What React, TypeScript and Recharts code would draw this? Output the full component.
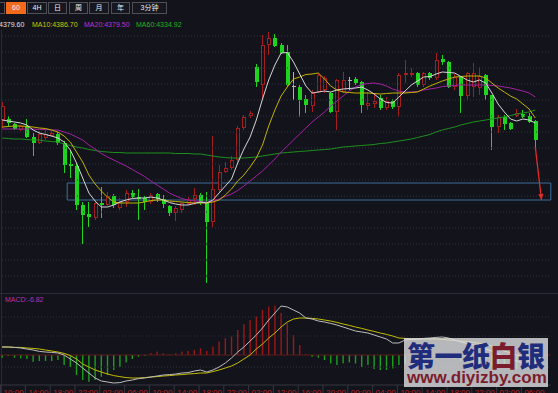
import React from 'react';
import { ComposedChart, Bar, Line, XAxis, YAxis, ReferenceLine, ReferenceArea } from 'recharts';

// ---------- data (60-minute candles) ----------
const opens = [4380,4381,4376,4370,4374,4363,4357,4362,4364,4366,
 4357,4336,4334,4295,4286,4282,4297,4295,4304,4292,
 4298,4307,4303,4302,4298,4306,4301,4294,4287,4290,
 4296,4301,4305,4297,4278,4310,4328,4332,4340,4372,
 4384,4433,4415,4455,4462,4455,4448,4414,4413,4401,
 4394,4408,4410,4407,4388,4408,4420,4421,4418,4394,
 4396,4402,4392,4399,4393,4425,4426,4427,4415,4427,
 4422,4441,4438,4413,4423,4404,4413,4412,4425,4405,
 4373,4383,4377,4384,4386,4384,4379];
const highs = [4398,4384,4377,4375,4381,4367,4369,4371,4369,4368,
 4359,4350,4337,4298,4298,4298,4313,4308,4306,4302,
 4310,4310,4311,4304,4307,4307,4305,4295,4294,4298,
 4303,4312,4307,4308,4364,4335,4338,4344,4374,4385,
 4389,4436,4465,4468,4466,4457,4455,4428,4415,4405,
 4410,4427,4424,4408,4421,4428,4423,4423,4419,4408,
 4407,4405,4403,4401,4427,4440,4432,4428,4428,4428,
 4447,4445,4439,4426,4424,4428,4437,4433,4426,4405,
 4385,4385,4378,4391,4390,4387,4380];
const lows = [4372,4373,4370,4369,4362,4344,4356,4360,4363,4355,
 4327,4322,4290,4256,4273,4280,4282,4294,4292,4290,
 4293,4302,4280,4290,4296,4298,4292,4284,4279,4287,
 4295,4295,4295,4217,4273,4308,4327,4330,4338,4370,
 4382,4413,4400,4445,4453,4446,4413,4400,4383,4387,
 4388,4407,4407,4387,4370,4407,4410,4415,4387,4390,
 4392,4390,4390,4391,4383,4417,4423,4413,4413,4420,
 4420,4435,4412,4410,4387,4400,4403,4405,4400,4350,
 4367,4370,4370,4383,4382,4377,4353];
const closes = [4394,4377,4371,4374,4363,4357,4366,4366,4367,4357,
 4335,4334,4295,4285,4283,4297,4295,4304,4295,4298,
 4307,4303,4301,4298,4305,4301,4296,4287,4292,4297,
 4300,4305,4297,4278,4311,4328,4332,4340,4372,4383,
 4387,4418,4455,4462,4454,4447,4415,4414,4400,4395,
 4407,4425,4422,4388,4420,4420,4420,4417,4395,4397,
 4399,4392,4399,4393,4425,4427,4427,4415,4427,4422,
 4440,4438,4413,4423,4404,4427,4427,4424,4405,4373,
 4383,4376,4371,4387,4383,4378,4360];

const ma5 = [4380,4379,4378,4377,4375,4370,4367,4365.5,4364,4362,
 4358,4350,4337,4322,4307,4299,4293,4293,4295,4298,
 4300,4301.5,4302,4302,4303,4302,4300,4297.5,4296,4295,
 4295,4296.5,4298,4297,4300,4307,4314,4321,4337,4351,
 4363,4380,4401,4420,4435,4447,4447.5,4438,4426,4414,
 4407,4408,4409,4408,4410,4411,4411.5,4412,4413,4410,
 4406,4401,4397.5,4397,4403,4409,4415,4419,4423,4423.5,
 4426,4428,4427.5,4427,4423.5,4420,4418,4420,4417,4407,
 4396,4388,4381,4379,4381,4380,4377];
const ma10 = [4373,4373.5,4374,4374,4373.5,4373,4372,4371.5,4370,4368,
 4364,4358,4348,4338,4325,4316,4309,4303,4298,4297,
 4297,4297,4297,4298,4299.5,4300,4300,4299,4298.5,4298,
 4297.5,4297,4297,4297,4298,4300,4305,4311,4319,4325,
 4333,4342,4355,4374,4390,4404,4413,4421,4423,4425.5,
 4426,4427,4421,4414,4410,4408,4407.5,4407,4407,4407,
 4406.5,4406,4406.5,4407,4407,4407,4407.5,4408,4411,4414,
 4416.5,4419,4421,4423,4423.5,4424,4424,4424,4422,4417,
 4412,4408,4404,4401,4396,4391,4382];
const ma20 = [4371,4371,4371,4371,4371,4371,4370.5,4370.5,4370,4370,
 4368,4366,4363,4360,4355,4351,4346.5,4343,4340,4337,
 4334,4330.5,4327,4323.5,4319,4315,4311,4307,4304,4301.5,
 4300,4299,4298.5,4298,4299,4301,4303.5,4306,4309.5,4314,
 4319,4324,4329,4335,4341,4348,4354,4360,4366,4372,
 4378,4383,4388,4394,4399,4404,4409,4413,4415.5,4416.5,
 4417,4416,4414,4411,4409,4408,4408,4408.5,4410,4411,
 4412,4413.5,4414,4414.5,4415,4415,4415,4415,4415,4414.5,
 4414,4413,4412,4410.5,4409,4407,4403];
const ma60 = [4362,4361.5,4361,4361,4360.5,4360,4360,4359,4358.5,4358,
 4356,4354.5,4353,4352,4350.5,4349.5,4348.5,4348,4347.5,4347.5,
 4347,4347,4347,4347,4347,4347,4347,4347,4346.5,4346.5,
 4346.5,4346,4346,4345,4344,4343,4342.5,4342,4342,4342,
 4342.5,4343,4344,4345,4346,4347,4347.5,4348,4348.5,4349,
 4349.5,4350,4350.5,4351,4352,4353,4353.5,4354,4354.5,4355,
 4355.5,4356.5,4357,4358,4359,4360,4361,4362.5,4364,4365.5,
 4368,4370,4371.5,4373,4375,4376.5,4378,4379,4380,4381,
 4382,4383,4384.5,4386,4387,4388,4390];

const dif = [4,4,3.8,3.5,3,2.5,1.8,1.5,1.3,1,
 0,-2,-4,-6.5,-9,-11.5,-13,-13.5,-14,-13.8,
 -13,-12.5,-11.8,-11.5,-11,-10.5,-10,-9.8,-9.5,-9,
 -8.8,-8,-7.5,-8.5,-7.5,-6,-4,-1.5,1.5,4,
 7,10,13.5,17.5,21,24.5,24,22.5,21,18.5,
 18,17,16.5,15.8,15,14,13,12,11.5,11,
 10,9,8,6,6,7.5,7.8,8,8.3,8.5,
 8.8,9,8.5,7.5,6.5,5.8,5,4,3,2,
 0.5,-1,-2,-3,-4,-4.8,-5.5];
const dea = [4,4,3.8,3.8,3.5,3.3,3,2.5,2,1.5,
 0.8,-0.3,-2,-4.5,-6,-7.5,-8.5,-9.5,-10.3,-10.8,
 -11.3,-11.5,-11.5,-11.3,-11,-10.8,-10.5,-10.3,-10,-9.8,
 -9.5,-9.3,-9,-9,-8.3,-7.5,-6.5,-5.5,-4,-2,
 0,3,5.5,8.5,11,14,16.5,18,18.5,18.5,
 18.3,18,17.5,17,16.3,15.5,14.8,14,13.3,12.5,
 11.8,11,10.3,9.5,8.5,8.3,8,8,8,8,
 8,7.8,7.5,7.3,7,6.8,6.3,5.8,5.3,4.5,
 3.3,2,1,0,-0.8,-1.3,-1.8];
const macdHist = [-1.4,-0.5,-1.4,-1.7,-2,-3.4,-3,-3,-3,-2.5,
 -5,-5.9,-10,-12.5,-13.4,-12.5,-10.9,-10,-7.5,-5.9,
 -3.7,-2,-0.9,-0.4,0.9,1.7,0.9,0.4,0.9,1.7,
 2,2.5,3.4,2,4.2,6.7,8.4,9.2,12.5,15.4,
 17.5,19.2,22.5,24.2,24.7,21,15.9,10,5,0.5,
 -0.9,-1.4,-2.5,-4.2,-5,-4.2,-3.7,-4.2,-5.9,-5,
 -7,-7.5,-7.5,-6.7,-5,-4.2,-3,-2,-1.5,-1,
 -0.8,-0.5,-1,-2,-3,-3.5,-4,-4.5,-5,-5.5,
 -6,-6.5,-6.5,-7,-7,-7,-7.5];

const timeTicks = [0,4,8,12,16,20,24,28,32,36,40,44,48,52,56,60,64,68,72,76,80,84];
const timeLabels = ['10:00','14:00','18:00','22:00','02:00','06:00','10:00','14:00','18:00','22:00','02:00',
 '12:00','16:00','20:00','00:00','04:00','10:00','14:00','18:00','22:00','02:00','06:00'];

const periodLabels = ['60','4H','日','周','月','年','3分钟'];
const legendTexts = ['4379.60','MA10:4386.70','MA20:4379.50','MA60:4334.92'];
const macdLabel = 'MACD:-6.82';

const gridPrices = [4464,4448,4432,4416,4400,4384,4368,4352,4336,4320,4304,4288,4272,4256,4240,4224];
const macdGrid = [19, 9.5, -6];
const boxStart = 11;
const boxEnd = 88;
const boxLow = 4300;
const boxHigh = 4317;
const arrowFrom = 86;
const arrowValues = [4353, 4300];
const SLOTS = 89;

const data = Array.from({ length: SLOTS }, (_, i) => {
  const row: any = { i };
  if (i < opens.length) {
    row.open = opens[i]; row.high = highs[i]; row.low = lows[i]; row.close = closes[i];
    row.range = [lows[i], highs[i]];
    row.ma5 = ma5[i]; row.ma10 = ma10[i]; row.ma20 = ma20[i]; row.ma60 = ma60[i];
    row.dif = dif[i]; row.dea = dea[i]; row.hist = macdHist[i];
  }
  if (i === arrowFrom) row.arrow = arrowValues[0];
  if (i === arrowFrom + 1) row.arrow = arrowValues[1];
  return row;
});

// ---------- styles ----------
const BG = '#13141b';
const RED = '#a31e1e';
const GREEN = '#1fd41f';
const GRAY = '#b4b4b4';
const GRID = '#30323c';
const FONT = '"Liberation Sans", Arial, "Noto Sans CJK SC", sans-serif';

const CandleShape = (props: any) => {
  const { x, y, width, height, payload } = props;
  if (!payload || payload.high == null) return <g />;
  const { open, close, high, low } = payload;
  const top0 = Math.min(y, y + height);
  const h0 = Math.abs(height);
  const span = high - low;
  const py = (v: number) => (span === 0 ? top0 : top0 + ((high - v) / span) * h0);
  const n = Math.floor(x + width / 2);
  const cx = n + 0.5;
  const flat = close === open;
  const up = close > open;
  const color = flat ? GRAY : up ? RED : GREEN;
  const bTop = Math.round(py(Math.max(open, close)));
  const bBot = Math.round(py(Math.min(open, close)));
  return (
    <g>
      <line x1={cx} x2={cx} y1={py(high)} y2={py(low)} stroke={color} strokeWidth={1} />
      {flat ? (
        <line x1={n - 1} x2={n + 3} y1={bTop + 0.5} y2={bTop + 0.5} stroke={color} strokeWidth={1} />
      ) : up ? (
        <rect x={n - 0.5} y={bTop + 0.5} width={3} height={Math.max(bBot - bTop - 1, 1)} fill={BG} stroke={color} strokeWidth={1} />
      ) : (
        <rect x={n - 1} y={bTop} width={4} height={Math.max(bBot - bTop, 1)} fill={color} />
      )}
    </g>
  );
};

const HistShape = (props: any) => {
  const { x, y, width, height, payload } = props;
  if (!payload || payload.hist == null) return <g />;
  const top = Math.min(y, y + height);
  const h = Math.abs(height);
  const cx = x + width / 2;
  return <rect x={cx - 0.7} y={top} width={1.4} height={h} fill={payload.hist >= 0 ? '#9c1717' : '#1d9e1d'} />;
};

const ArrowHead = (props: any) => {
  const { cx, cy, index } = props;
  if (index !== arrowFrom + 1 || cx == null) return <g key={`ah${index}`} />;
  const dx = 0.116, dy = 0.993;
  const bx = cx - 6 * dx, by = cy - 6 * dy;
  const pts = `${cx},${cy} ${bx - 2.6 * dy},${by + 2.6 * dx} ${bx + 2.6 * dy},${by - 2.6 * dx}`;
  return <polygon key={`ah${index}`} points={pts} fill="#e52b2b" />;
};

const TimeTick = (props: any) => {
  const { x, y, payload } = props;
  const k = timeTicks.indexOf(payload.value);
  const label = k >= 0 ? timeLabels[k] : '';
  return (
    <g>
      <line x1={x - 1.5} x2={x - 1.5} y1={y} y2={y + 8} stroke="#34353e" strokeWidth={1} />
      <text x={x + 1.5} y={y + 10} fill="#b82323" fontSize={8} fontFamily={FONT} textAnchor="start">{label}</text>
    </g>
  );
};

const buttonLefts = [6, 27, 48, 69, 89, 111, 132];
const buttonWidths = [20, 20, 19, 19, 20, 19, 35];
const legendLefts = [-1, 32, 84, 136];
const legendColors = ['#e0e0e0', '#d2c400', '#c22ec2', '#22b422'];

export default function App() {
  return (
    <div style={{ position: 'fixed', left: 0, top: 0, width: 558, height: 393, overflow: 'hidden', background: BG, fontFamily: FONT }}>
      {/* period toolbar */}
      <div style={{ position: 'absolute', left: -16, top: 2, width: 21, height: 12, boxSizing: 'border-box', border: '1px solid #4e4f57' }} />
      {periodLabels.map((p, k) => (
        <div key={p} style={{
          position: 'absolute', left: buttonLefts[k], top: 2, width: buttonWidths[k], height: 12, boxSizing: 'border-box',
          border: k === 0 ? '1px solid #f26b1d' : '1px solid #4e4f57', background: k === 0 ? '#f26b1d' : '#17181f',
          color: '#ececec', fontSize: 7, display: 'flex', alignItems: 'center', justifyContent: 'center', lineHeight: '10px'
        }}>{p}</div>
      ))}
      {/* MA legend */}
      {legendTexts.map((t, k) => (
        <div key={t} style={{ position: 'absolute', left: legendLefts[k], top: 20, fontSize: 7, lineHeight: '10px', color: legendColors[k], whiteSpace: 'nowrap' }}>{t}</div>
      ))}

      {/* left border */}
      <div style={{ position: 'absolute', left: 1, top: 30, width: 1, height: 363, background: '#292a33' }} />

      {/* main price panel */}
      <div style={{ position: 'absolute', left: -11.1, top: 30 }}>
        <ComposedChart width={570} height={260} data={data} margin={{ top: 0, right: 8.2, bottom: 0, left: 10 }}>
          <XAxis dataKey="i" type="category" hide />
          <YAxis domain={[4210, 4470]} hide allowDataOverflow />
          {gridPrices.map((p) => (
            <ReferenceLine key={p} y={p} stroke={GRID} strokeDasharray="1 2" />
          ))}
          <ReferenceArea x1={boxStart} x2={boxEnd} y1={boxLow} y2={boxHigh} fill="none" fillOpacity={0} stroke="#3d6d9b" strokeWidth={1} ifOverflow="visible" />
          <Bar dataKey="range" shape={CandleShape} isAnimationActive={false} />
          <Line dataKey="ma60" type="linear" stroke="#1f8f1f" strokeWidth={1} dot={false} activeDot={false} isAnimationActive={false} />
          <Line dataKey="ma20" type="linear" stroke="#a322a3" strokeWidth={1} dot={false} activeDot={false} isAnimationActive={false} />
          <Line dataKey="ma10" type="linear" stroke="#c2b200" strokeWidth={1} dot={false} activeDot={false} isAnimationActive={false} />
          <Line dataKey="ma5" type="linear" stroke="#d6d6d6" strokeWidth={1} dot={false} activeDot={false} isAnimationActive={false} />
          <Line dataKey="arrow" type="linear" stroke="#e52b2b" strokeWidth={1.3} dot={ArrowHead} activeDot={false} isAnimationActive={false} />
        </ComposedChart>
      </div>

      {/* MACD panel */}
      <div style={{ position: 'absolute', left: 0, top: 293, width: 558, height: 1, background: '#2a2b34' }} />
      <div style={{ position: 'absolute', left: 5, top: 295, fontSize: 7, lineHeight: '10px', color: '#b232b2', whiteSpace: 'nowrap' }}>{macdLabel}</div>
      <div style={{ position: 'absolute', left: -11.1, top: 295 }}>
        <ComposedChart width={570} height={108} data={data} margin={{ top: 0, right: 8.2, bottom: 0, left: 10 }}>
          <XAxis dataKey="i" type="category" ticks={timeTicks} interval={0} height={18} tickSize={0} tickMargin={0}
            axisLine={{ stroke: '#34353e' }} tickLine={false} tick={<TimeTick />} />
          <YAxis domain={[-15, 30]} hide allowDataOverflow />
          {macdGrid.map((v) => (
            <ReferenceLine key={v} y={v} stroke={GRID} strokeDasharray="1 2" />
          ))}
          <ReferenceLine y={0} stroke="#5e1a1a" />
          <Bar dataKey="hist" shape={HistShape} isAnimationActive={false} />
          <Line dataKey="dea" type="linear" stroke="#c4bc00" strokeWidth={1} dot={false} activeDot={false} isAnimationActive={false} />
          <Line dataKey="dif" type="linear" stroke="#bdbdbd" strokeWidth={1} dot={false} activeDot={false} isAnimationActive={false} />
        </ComposedChart>
      </div>

      {/* watermark */}
      <div style={{ position: 'absolute', left: 404, top: 338, width: 144, height: 49, background: 'rgba(224,224,228,0.8)', overflow: 'hidden' }}>
        <div style={{ position: 'absolute', left: 3, top: 2, fontSize: 28, lineHeight: '30px', fontWeight: 900, fontFamily: '"Noto Sans CJK SC", sans-serif', whiteSpace: 'nowrap', letterSpacing: -0.5 }}>
          <span style={{ color: '#1f2d7c' }}>第一纸</span><span style={{ color: '#7b1c2c' }}>白</span><span style={{ color: '#1f2d7c' }}>银</span>
        </div>
        <div style={{ position: 'absolute', left: 3, top: 31, fontSize: 17, lineHeight: '18px', fontWeight: 700, color: '#7b1c2c', whiteSpace: 'nowrap', fontFamily: '"Liberation Sans", Arial, sans-serif' }}>www.diyizby.com</div>
      </div>
    </div>
  );
}
